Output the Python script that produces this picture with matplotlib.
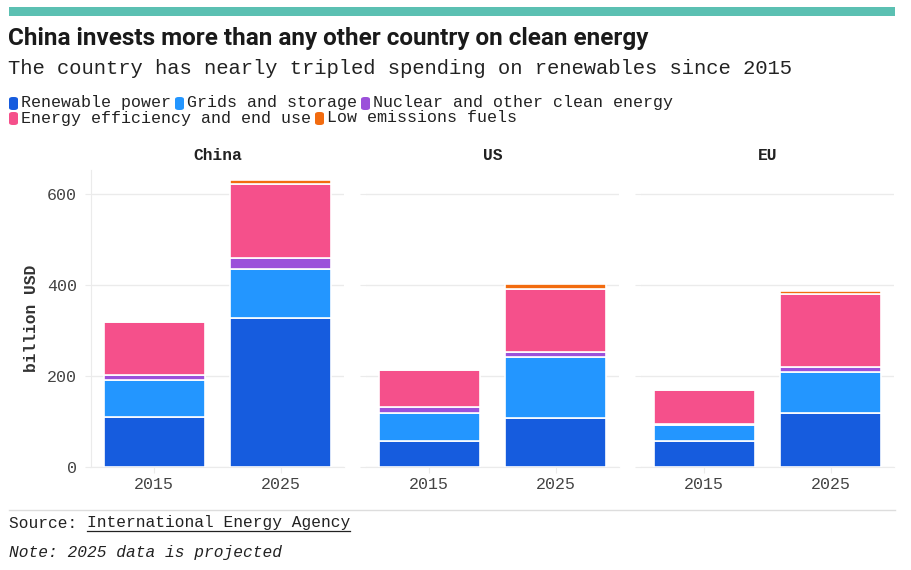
import matplotlib
matplotlib.use("Agg")
import matplotlib.pyplot as plt
from matplotlib.patches import FancyBboxPatch, Rectangle
from matplotlib.lines import Line2D
import numpy as np

# data (billion USD)
regions = ["China", "US", "EU"]
years = ["2015", "2025"]
renewable = {"China": [110, 327], "US": [58, 107], "EU": [57, 118]}
grids = {"China": [80, 108], "US": [60, 134], "EU": [36, 91]}
nuclear = {"China": [13, 24], "US": [14, 11], "EU": [2, 10]}
efficiency = {"China": [115, 162], "US": [80, 139], "EU": [75, 161]}
low_fuels = {"China": [2, 8], "US": [3, 11], "EU": [2, 7]}

series = [
    ("Renewable power", renewable, "#165CDE"),
    ("Grids and storage", grids, "#2396FF"),
    ("Nuclear and other clean energy", nuclear, "#9B50DA"),
    ("Energy efficiency and end use", efficiency, "#F5508B"),
    ("Low emissions fuels", low_fuels, "#F26B0F"),
]

MONO = ["Liberation Mono", "DejaVu Sans Mono"]
W, H = 911, 570

fig = plt.figure(figsize=(W / 100, H / 100), dpi=100)


def fx(px):
    return px / W


def fy(py):
    return 1 - py / H


# teal strip at top
fig.patches.append(Rectangle((fx(9), fy(16)), fx(886), 9 / H, transform=fig.transFigure,
                             facecolor="#5BC0B2", edgecolor="none"))

fig.text(fx(8), fy(39), "China invests more than any other country on clean energy",
         fontsize=17.5, fontweight="bold", family=["Liberation Sans Narrow", "Roboto", "DejaVu Sans"],
         color="#1a1a1a", va="center", ha="left")
fig.text(fx(8), fy(69), "The country has nearly tripled spending on renewables since 2015",
         fontsize=14.75, family=MONO, color="#222222", va="center", ha="left")

# legend, drawn by hand so it wraps like the reference
fig.canvas.draw()
renderer = fig.canvas.get_renderer()
rows = [series[:3], series[3:]]
row_y = [103, 118]
for row, yy in zip(rows, row_y):
    x = 9
    for name, _, color in row:
        fig.patches.append(FancyBboxPatch((fx(x), fy(yy + 7)), fx(9), 13 / H,
                                          boxstyle="round,pad=0,rounding_size=0.004",
                                          transform=fig.transFigure, facecolor=color,
                                          edgecolor="none"))
        t = fig.text(fx(x + 12), fy(yy), name, fontsize=12, family=MONO,
                     color="#222222", va="center", ha="left")
        bb = t.get_window_extent(renderer)
        x = x + 12 + bb.width + 4

# panels
axes_left = [91, 366, 641]
axes_w = 253
top_px, bottom_px = 170, 467
for i, reg in enumerate(regions):
    ax = fig.add_axes([fx(axes_left[i]), fy(bottom_px), fx(axes_w), (bottom_px - top_px) / H])
    xpos = np.arange(len(years))
    bottom = np.zeros(len(years))
    for name, data, color in series:
        vals = np.array(data[reg], dtype=float)
        ax.bar(xpos, vals, 0.8, bottom=bottom, color=color, edgecolor="white", linewidth=1.2,
               zorder=3)
        bottom += vals
    ax.set_xlim(-0.5, 1.5)
    ax.set_ylim(0, 652)
    ax.set_yticks([0, 200, 400, 600])
    ax.set_xticks(xpos)
    ax.set_xticklabels(years)
    ax.grid(axis="y", color="#ebebeb", linewidth=1, zorder=0)
    for s in ["top", "right"]:
        ax.spines[s].set_visible(False)
    ax.spines["bottom"].set_color("#ebebeb")
    if i == 0:
        ax.spines["left"].set_color("#ebebeb")
        ax.set_ylabel("billion USD", family=MONO, fontweight="bold", fontsize=11.7,
                      color="#333333", labelpad=6)
    else:
        ax.spines["left"].set_visible(False)
        ax.set_yticklabels([])
        ax.tick_params(axis="y", length=0)
    ax.tick_params(axis="both", colors="#444444", labelsize=12, length=4, width=0.8)
    ax.tick_params(axis="x", color="#ebebeb", labelcolor="#444444", pad=3)
    ax.tick_params(axis="y", color="#ebebeb", labelcolor="#444444", pad=6)
    for lab in ax.get_xticklabels() + ax.get_yticklabels():
        lab.set_family(MONO)
    ax.set_title(reg, family=MONO, fontweight="bold", fontsize=11.7, color="#222222", pad=7)

# footer
fig.lines.append(Line2D([fx(9), fx(895)], [fy(510), fy(510)], transform=fig.transFigure,
                        color="#dddddd", linewidth=1))
t = fig.text(fx(9), fy(523), "Source: ", fontsize=11.7, family=MONO, color="#222222",
             va="center", ha="left")
bb = t.get_window_extent(renderer)
link = fig.text(fx(9) + bb.width / W, fy(523), "International Energy Agency", fontsize=11.7,
                family=MONO, color="#222222", va="center", ha="left")
lb = link.get_window_extent(renderer)
fig.lines.append(Line2D([lb.x0 / W, lb.x1 / W], [fy(531), fy(531)], transform=fig.transFigure,
                        color="#222222", linewidth=0.9))
fig.text(fx(9), fy(552), "Note: 2025 data is projected", fontsize=11.7, family=MONO,
         style="italic", color="#222222", va="center", ha="left")

fig.savefig("out.png", dpi=100)
